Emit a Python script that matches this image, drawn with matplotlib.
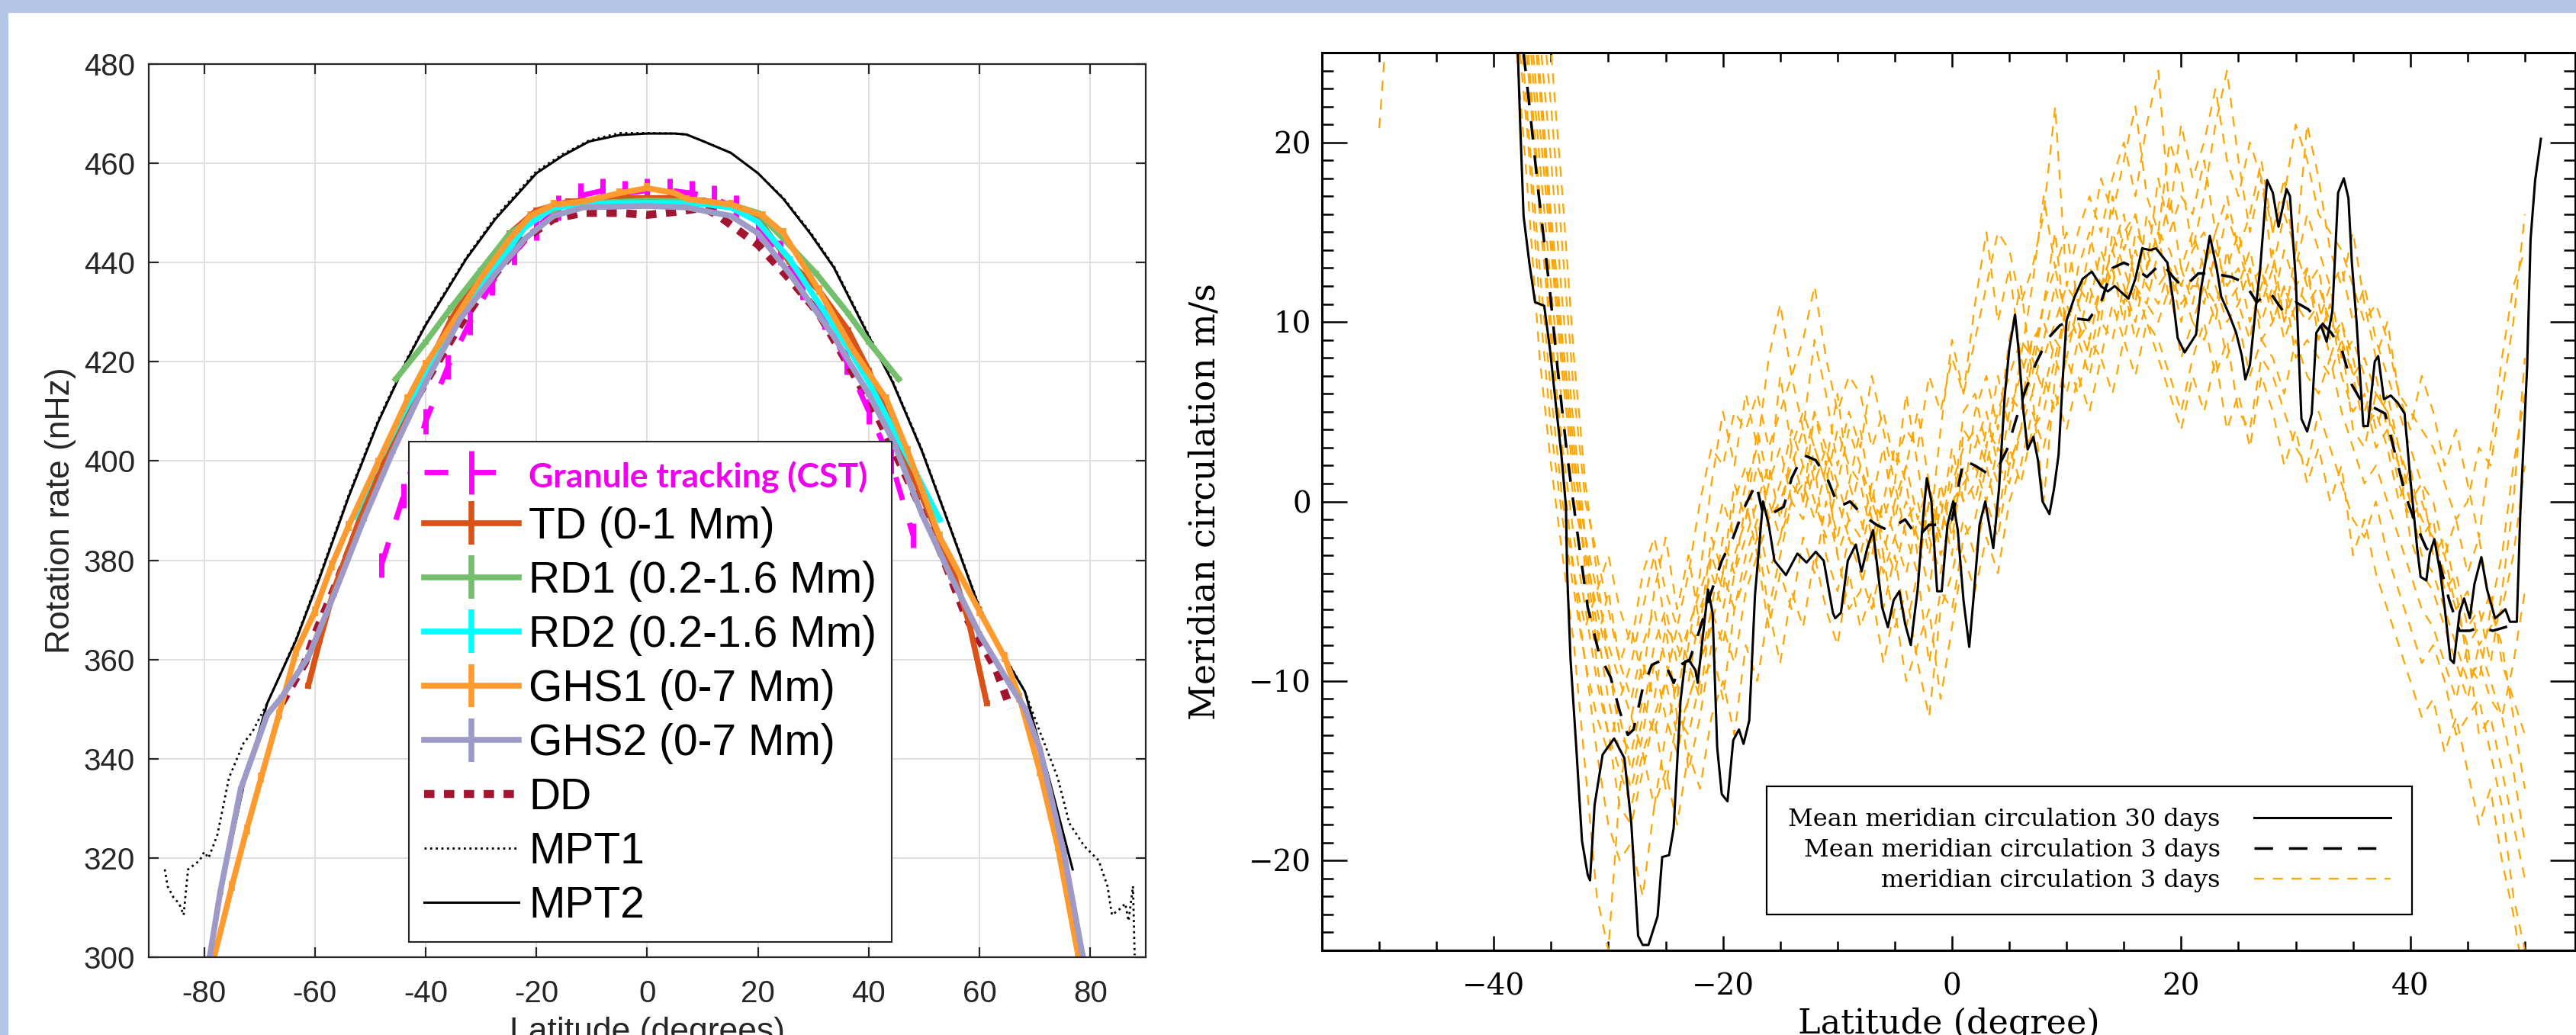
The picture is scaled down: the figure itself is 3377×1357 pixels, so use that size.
import matplotlib.pyplot as plt
from matplotlib.patches import Rectangle
from matplotlib.ticker import MultipleLocator

# ---------------- left panel: rotation rate vs latitude ----------------
LEFT_LABELS = ["Granule tracking (CST)", "TD (0-1 Mm)", "RD1 (0.2-1.6 Mm)",
               "RD2 (0.2-1.6 Mm)", "GHS1 (0-7 Mm)", "GHS2 (0-7 Mm)",
               "DD", "MPT1", "MPT2"]
LEFT_XTICKS = [-80, -60, -40, -20, 0, 20, 40, 60, 80]
LEFT_YTICKS = [300, 320, 340, 360, 380, 400, 420, 440, 460, 480]

cst_lat = [-48, -44, -40, -36, -32, -28, -24, -20, -16, -12, -8, -4, 0,
           4, 8, 12, 16, 20, 24, 28, 32, 36, 40, 44, 48]
cst_val = [379, 393, 408, 419, 428, 436, 442, 447, 451, 453.5, 454.5, 454,
           454.5, 454.5, 454, 453, 451, 447, 442, 435, 429, 420, 410, 400, 385]
cst_err = 2.5

td_lat = [-61.2, -59.1, -56.5, -51.2, -45.9, -40, -35.4, -30.1, -24.8, -20,
          -14.2, -10, -5, 0, 5, 10, 15.1, 20, 25.7, 31, 36.3, 40, 44.3, 49.6,
          54.9, 58.1, 61.3]
td_val = [354.7, 363.9, 374.3, 390.5, 403.2, 418.2, 428.6, 437.8, 445.9, 450.5,
          452.3, 452.5, 453, 453, 453, 452.5, 451.7, 448.8, 440.1, 434.4,
          426.3, 418.2, 406.6, 392.8, 378.9, 367.4, 351.2]
td_err = 0.6

rd1_lat = [-45.4, -40, -35.4, -30.1, -24.8, -20, -14.2, -10, 0, 10, 15.1, 20,
           24.6, 30.5, 36.3, 40, 45.4]
rd1_val = [416.5, 424, 430.9, 438.4, 445.9, 449.4, 451.7, 452, 452.5, 452.3,
           451.7, 450, 444.8, 437.8, 429.7, 424, 416.5]
rd1_err = 0.5

rd2_lat = [-52.8, -48.6, -43.3, -40, -32.7, -27.4, -22.1, -16.9, -10, -5, 0,
           5, 10, 15.1, 20, 25.7, 31.5, 36.9, 40, 44.3, 48.6, 52.8]
rd2_val = [388.8, 399.7, 411.3, 417.6, 430.9, 439, 447.1, 451.1, 451.8, 452,
           452, 452, 451.8, 451.1, 448.2, 440.7, 430.9, 421.7, 415.9, 406.6,
           397.4, 388.2]
rd2_err = 0.5

ghs1_lat = [-78.2, -75, -72.3, -69.7, -66.5, -63.4, -60, -57, -53.9, -48.6,
            -43.3, -40, -35.4, -30.1, -24.8, -21.1, -16.9, -11.6, -5, 0, 5,
            7.1, 15.1, 20.9, 24.6, 31, 36.9, 43.2, 47, 52.8, 60, 64.5, 67.2,
            70.9, 74.1, 77.8]
ghs1_val = [300, 314.3, 325.8, 336.2, 348.9, 361.6, 369.7, 378.9, 387, 399.7,
            412.4, 419.4, 427.4, 436.7, 444.8, 449.4, 451.7, 452.3, 454, 455,
            454, 452.8, 451.7, 449.4, 445.9, 434.4, 422.8, 412.4, 402, 384.7,
            369.7, 360.5, 352.4, 337.4, 322.4, 300.4]
ghs1_err = 1.0

ghs2_lat = [-79, -77.1, -73.4, -68.6, -66, -61.2, -56.5, -51.2, -45.9, -40,
            -33.8, -27.4, -22.1, -16.9, -11.6, -5, 0, 5, 7.1, 15.1, 20, 25.7,
            33.7, 40, 44.3, 49.6, 54.9, 60, 65.6, 68.2, 70.9, 75.2, 78.6]
ghs2_val = [300, 313.1, 333.9, 348.9, 352.4, 360.5, 373.2, 388.2, 402, 415.9,
            428.6, 437.8, 444.8, 449.4, 451.1, 451.3, 451.4, 451.2, 451.1,
            449.4, 445.9, 437.8, 425.1, 413.5, 404.3, 389.3, 376.6, 365.1,
            354.7, 350.1, 342, 321.2, 300.4]
ghs2_err = 0.5

dd_lat = [-66, -61.8, -60, -56.5, -51.2, -45.9, -40, -33.8, -27.4, -22.1,
          -16.9, -11.6, -5, 0, 5, 10, 12.4, 20, 25.7, 31, 36.3, 41.6, 47,
          52.3, 57.6, 62.9, 65.6]
dd_val = [351.2, 359.3, 365.1, 374.3, 389.3, 404.3, 415.9, 427.4, 437.8,
          444.8, 448.8, 450, 450, 449.6, 450.2, 451, 449.8, 443.6, 436.7,
          429.7, 419.4, 409, 396.3, 383.6, 368.5, 358.2, 350.1]

mpt1_lat = [-87.1, -86.6, -85.5, -84.5, -83.7, -83.4, -82.9, -80.8, -80,
            -79.2, -77.6, -75.5, -72.9, -71.3, -68.6, -63.4, -59.1, -53.9,
            -48.6, -43.3, -40, -32.7, -27.4, -20, -15.3, -10.5, -5, 0, 5, 7.1,
            10, 15.1, 20, 24.6, 29.4, 33.7, 40, 44.3, 49.6, 54.9, 60, 64.5,
            68.2, 70.9, 74.1, 76.2, 78.9, 81.5, 83.1, 83.9, 85.3, 86.3, 86.9,
            87.7, 88]
mpt1_val = [317.7, 314.3, 312, 310.8, 308.5, 312, 317.7, 319.5, 321.2, 320,
            324.7, 336.2, 343.1, 345.4, 351.2, 364.2, 377, 393.2, 408.2, 420.8,
            427.7, 441, 449.2, 458.4, 461.8, 464.6, 466.1, 466.1, 466, 465.8,
            464.5, 462.1, 458, 453, 446.2, 439.3, 425.4, 416.2, 402.3, 386.2,
            370.6, 360.8, 353.5, 345.4, 336.2, 327, 322.4, 319.5, 314.3, 308.5,
            309.7, 310.8, 307.3, 314.3, 300.4]

mpt2_lat = [-77, -72.9, -68.6, -63.4, -59.1, -53.9, -48.6, -43.3, -40, -32.7,
            -27.4, -20, -15.3, -10.5, -5, 0, 5, 7.1, 10, 15.1, 20, 24.6, 29.4,
            33.7, 40, 44.3, 49.6, 54.9, 60, 64.5, 68.2, 72.5, 76.8]
mpt2_val = [313.1, 334.5, 351.2, 363.9, 376.6, 392.8, 407.8, 420.5, 427.4,
            440.7, 448.8, 458, 461.5, 464.4, 465.7, 466, 466, 465.8, 464.5,
            462.1, 458, 452.8, 445.9, 439, 425.1, 415.9, 402, 385.9, 370.3,
            360.5, 353.5, 336.2, 317.7]

# ---------------- right panel: meridional circulation ----------------
RIGHT_LABELS = ["Mean meridian circulation 30 days",
                "Mean meridian circulation 3 days",
                "meridian circulation 3 days"]

mean30_lat = [-38.1, -37.9, -37.7, -37.4, -36.9, -36.4, -35.6, -35.1, -34.6,
              -34.1, -33.7, -33.6, -33.3, -32.8, -32.3, -31.8, -31.6, -31.2,
              -30.5, -29.5, -28.6, -28.0, -27.4, -27.0, -26.5, -25.7, -25.3,
              -24.7, -24.3, -23.7, -23.3, -22.9, -22.4, -22.2, -21.7, -21.3,
              -20.9, -20.5, -20.1, -19.6, -19.1, -18.6, -18.2, -17.7, -17.2,
              -16.5, -16.0, -15.5, -14.5, -13.5, -12.7, -11.9, -11.2, -10.4,
              -10.2, -9.7, -9.1, -8.4, -7.9, -7.4, -6.9, -6.1, -5.6, -5.1,
              -4.6, -4.1, -3.6, -3.0, -2.5, -2.2, -1.8, -1.3, -0.9, -0.4, 0.1,
              0.5, 1.0, 1.5, 1.9, 2.4, 2.9, 3.6, 4.1, 4.6, 5.0, 5.5, 5.8, 6.2,
              6.6, 7.1, 7.5, 7.9, 8.5, 8.9, 9.3, 9.7, 10.0, 10.7, 11.4, 12.2,
              13.0, 13.6, 14.2, 14.7, 15.4, 16.0, 16.6, 17.3, 17.8, 18.3, 18.8,
              19.3, 19.7, 20.3, 20.8, 21.3, 21.7, 22.5, 23.1, 23.5, 24.2, 24.8,
              25.3, 25.6, 26.0, 26.4, 26.9, 27.5, 28.0, 28.5, 29.2, 29.5, 30.0,
              30.5, 31.0, 31.4, 31.8, 32.2, 32.7, 33.2, 33.7, 34.2, 34.6, 34.9,
              35.3, 35.9, 36.3, 36.9, 37.2, 37.7, 38.3, 38.9, 39.5, 40.0, 40.6,
              40.9, 41.4, 41.7, 42.1, 42.6, 43.0, 43.5, 43.8, 44.3, 44.7, 45.2,
              45.6, 46.2, 46.7, 47.4, 47.8, 48.3, 48.7, 49.3, 49.6, 50.2, 50.5,
              50.9, 51.4]
mean30_val = [28.0, 25.0, 21.1, 15.9, 13.3, 11.1, 10.9, 8.5, 5.5, 2.6, -0.3,
              -3.9, -8.8, -13.7, -18.9, -20.8, -21.1, -16.9, -14.1, -13.2,
              -14.3, -17.9, -24.2, -24.7, -24.7, -23.1, -19.8, -19.7, -18.2,
              -11.1, -8.9, -8.9, -9.4, -10.1, -7.2, -4.9, -6.2, -13.7, -16.3,
              -16.7, -13.3, -12.7, -13.5, -12.2, -5.2, 0.0, -1.3, -3.3, -4.1,
              -2.9, -3.4, -2.8, -3.3, -6.2, -6.5, -6.2, -3.3, -2.4, -3.9, -2.6,
              -1.6, -5.9, -7.0, -5.5, -5.0, -6.8, -8.0, -4.9, -0.7, 1.3, 0.0,
              -5.0, -5.0, -1.3, 0.0, -1.6, -5.5, -8.1, -5.2, -1.3, 0.0, -2.6,
              0.7, 5.9, 8.5, 10.4, 8.5, 5.2, 2.9, 3.6, 2.3, 0.0, -0.7, 0.7, 2.6,
              7.2, 10.1, 11.4, 12.4, 12.8, 12.0, 11.7, 12.0, 11.7, 11.3, 12.4,
              14.1, 14.0, 14.1, 13.7, 13.3, 11.2, 9.1, 8.3, 8.8, 9.3, 11.7,
              14.8, 13.0, 11.4, 10.4, 9.4, 8.1, 6.8, 7.6, 10.1, 13.0, 17.9,
              17.2, 15.3, 17.4, 17.0, 12.4, 4.6, 3.9, 4.9, 9.4, 9.8, 8.9, 10.6,
              17.2, 18.0, 16.9, 13.3, 10.1, 4.2, 4.2, 7.8, 8.1, 5.7, 5.9, 5.5,
              4.9, 1.3, -2.6, -4.2, -4.4, -2.9, -2.1, -3.9, -5.9, -8.8, -9.0,
              -6.2, -5.4, -6.5, -4.6, -3.1, -4.9, -6.5, -6.3, -6.0, -6.7, -6.7,
              -0.7, 7.5, 14.6, 17.9, 20.2]

mean3_lat = [-37.4, -36.9, -36.1, -35.1, -34.4, -33.6, -32.8, -31.8, -30.8,
             -29.8, -29.0, -28.3, -27.8, -27.0, -26.2, -25.2, -24.3, -23.7,
             -22.9, -22.2, -21.1, -20.1, -19.1, -18.1, -17.1, -16.5, -15.8,
             -14.7, -14.0, -13.0, -11.9, -10.9, -9.9, -8.9, -7.9, -6.6, -5.6,
             -4.1, -3.0, -2.0, -1.0, 0.0, 1.0, 2.0, 3.0, 4.1, 4.8, 5.6, 6.4,
             7.4, 8.4, 9.4, 10.7, 11.9, 13.0, 14.0, 15.0, 16.0, 17.0, 18.3,
             19.3, 20.2, 21.5, 22.8, 24.4, 25.5, 26.6, 27.7, 28.9, 30.0, 31.1,
             32.0, 33.1, 34.0, 34.9, 35.8, 36.9, 37.8, 38.7, 39.6, 40.5, 41.4,
             42.5, 43.4, 44.3, 45.2, 46.1, 47.2, 48.3, 49.2]
mean3_val = [25.0, 22.1, 17.2, 11.7, 7.2, 2.6, -1.3, -5.9, -8.5, -9.8, -11.7,
             -13.0, -12.7, -10.4, -9.1, -8.8, -10.1, -9.1, -8.8, -7.5, -5.2,
             -3.3, -2.0, -0.3, 1.0, -0.7, -0.7, -0.3, 1.3, 2.6, 2.3, 1.3, -0.3,
             0.0, -0.7, -1.3, -1.6, -1.0, -2.0, -1.3, -1.3, -1.0, 2.3, 2.0, 1.6,
             2.0, 2.9, 4.6, 6.2, 7.8, 9.1, 9.8, 10.2, 10.1, 11.1, 13.0, 13.3,
             13.0, 12.5, 13.3, 12.5, 11.9, 12.7, 12.7, 12.5, 12.2, 11.1, 11.7,
             10.6, 11.1, 10.7, 10.1, 9.4, 8.5, 6.5, 5.5, 5.2, 4.9, 2.6, 0.3,
             -1.3, -2.6, -3.3, -5.5, -7.2, -7.2, -7.0, -7.2, -7.0, -6.8]

# individual 3-day circulations, sampled at whole degrees from -38 to 50
lat_3day = list(range(-38, 51))
day3_a = [25, 17, 8, 2, -3, -8, -15, -22, -25, -16,
          -12, -14, -17, -13, -10, -15, -12, -8, -11, -6,
          -4, -2, -6, -3, 0, -1, 2, -3, -5, -2,
          -4, -6, -3, -7, -5, -9, -12, -6, -4, -1,
          -3, 0, -2, 2, 4, 3, 7, 5, 8, 6,
          9, 8, 11, 9, 12, 10, 9, 7, 5, 8,
          10, 7, 9, 5, 4, 8, 7, 5, 3, 2,
          5, 3, 1, -1, -2, 0, -3, -5, -7, -9,
          -8, -10, -13, -12, -11, -14, -17, -22, -25]
day3_b = [29, 21, 13, 6, 0, -4, -7, -5, -3, -6,
          -8, -4, -2, -5, -7, -4, 0, 3, 2, 5,
          4, 6, 3, 5, 7, 9, 12, 8, 5, 7,
          6, 3, 5, 2, 4, 3, 7, 5, 8, 6,
          9, 12, 15, 14, 11, 13, 16, 22, 12, 15,
          17, 15, 18, 20, 17, 21, 24, 16, 21, 18,
          20, 23, 19, 17, 20, 18, 15, 17, 21, 19,
          16, 15, 14, 12, 10, 11, 9, 6, 5, 4,
          3, 1, -1, 0, 3, 2, 6, 10, 16]
day3_c = [31, 24, 16, 9, 3, -2, -6, -10, -13, -15,
          -17, -14, -12, -10, -13, -11, -9, -6, -8, -4,
          -2, 0, 2, -1, 3, 5, 3, 1, 4, 2,
          1, -2, 0, 3, 1, -3, 0, -2, 1, 3,
          4, 2, 5, 7, 9, 8, 11, 13, 10, 12,
          11, 14, 12, 15, 16, 13, 15, 14, 12, 14,
          15, 13, 16, 14, 12, 13, 11, 14, 12, 11,
          12, 10, 9, 7, 8, 6, 5, 3, 1, -1,
          -2, -4, -6, -8, -7, -5, -9, -11, -13]
day3_d = [34, 27, 19, 12, 5, 0, -3, -6, -9, -12,
          -15, -12, -8, -6, -9, -7, -5, -3, 0, -2,
          1, 3, -1, 0, 2, 4, 1, 3, 0, -2,
          -3, 0, -2, -4, -1, 0, -3, 1, -2, 2,
          0, 3, 1, 5, 7, 9, 8, 10, 12, 11,
          13, 12, 14, 16, 12, 11, 14, 13, 10, 13,
          11, 14, 12, 13, 10, 12, 14, 10, 12, 13,
          9, 11, 7, 5, 6, 3, 4, 2, 0, -3,
          -4, -6, -8, -10, -9, -11, -12, -15, -19]
day3_e = [37, 30, 23, 15, 8, 2, -2, -5, -8, -10,
          -12, -9, -11, -7, -8, -10, -6, -4, -6, -3,
          -1, 2, 0, -2, 1, 0, 3, 1, -2, 1,
          -1, -3, 0, -2, -4, -1, -2, -4, 0, 1,
          2, 0, 3, 2, 4, 6, 0, 7, 11, 9,
          10, 12, 13, 11, 14, 12, 11, 13, 12, 10,
          12, 11, 13, 15, 12, 10, 12, 9, 11, 10,
          11, 8, 10, 8, 5, 7, 4, 1, -1, 0,
          -2, -3, -6, -5, -8, -7, -6, -3, 2]
day3_f = [40, 33, 26, 19, 11, 4, -2, -7, -11, -14,
          -16, -13, -9, -12, -14, -11, -9, -7, -4, -6,
          -3, -1, -4, -2, 0, 1, -1, 2, -3, -1,
          2, -1, -4, -2, 0, -2, -5, 0, -3, 4,
          3, 5, 2, 1, 4, 8, 6, 9, 8, 11,
          9, 12, 14, 12, 10, 13, 15, 11, 13, 11,
          14, 12, 10, 11, 13, 9, 10, 12, 8, 9,
          8, 7, 9, 4, 3, 6, 5, 2, -2, -4,
          -5, -7, -9, -11, -8, -10, -12, -9, -5]
day3_g = [43, 36, 29, 22, 14, 6, 0, -3, -6, -9,
          -11, -8, -6, -9, -11, -7, -8, -3, -5, 0,
          2, -2, 1, 3, 0, 2, 5, 3, 1, 4,
          2, 0, -1, 1, -2, -4, 0, -1, 3, 0,
          1, 4, 3, 6, 5, 9, 10, 8, 11, 9,
          12, 10, 15, 13, 11, 16, 14, 17, 13, 15,
          13, 15, 11, 12, 14, 11, 13, 10, 14, 12,
          13, 9, 10, 7, 4, 5, 3, 0, 2, -2,
          -1, -5, -4, -7, -6, -9, -5, 0, 8]
day3_h = [46, 39, 32, 25, 17, 8, 1, -4, -9, -13,
          -14, -11, -13, -10, -7, -9, -11, -6, -2, -4,
          0, -3, -1, 1, 4, 2, 0, -2, 1, -1,
          -2, 1, -3, 0, 2, -1, 1, -3, -1, 5,
          6, 3, 7, 4, 8, 6, 9, 12, 9, 10,
          8, 11, 13, 10, 15, 14, 12, 13, 11, 12,
          12, 10, 14, 11, 9, 13, 10, 12, 10, 13,
          10, 12, 8, 9, 7, 4, 6, 3, 0, 1,
          -3, -2, -5, -9, -10, -6, -8, -12, -16]
day3_i = [27, 20, 11, 4, -1, -5, -9, -12, -14, -11,
          -9, -6, -3, -7, -12, -8, -4, 1, 5, 2,
          6, 3, 8, 11, 7, 4, 9, 6, 2, 5,
          3, 7, 4, 1, 6, 2, -2, 4, 9, 6,
          11, 15, 10, 13, 8, 12, 17, 13, 15, 11,
          14, 18, 16, 19, 22, 17, 15, 20, 18, 14,
          17, 21, 24, 19, 15, 18, 13, 16, 14, 21,
          18, 14, 12, 15, 11, 8, 10, 6, 4, 7,
          5, 2, 4, 1, -2, 3, 8, 12, 14]
day3_j = [32, 25, 17, 10, 2, -4, -9, -14, -18, -20,
          -19, -22, -17, -15, -18, -14, -16, -12, -10, -13,
          -8, -10, -6, -9, -5, -7, -3, -6, -8, -4,
          -7, -5, -9, -6, -10, -8, -6, -11, -7, -3,
          -5, -2, -4, 0, 2, 5, 3, 6, 4, 7,
          5, 8, 6, 9, 7, 10, 8, 6, 4, 7,
          5, 8, 4, 6, 3, 7, 5, 2, 4, 1,
          3, 0, 2, -3, -1, -4, -6, -8, -10, -12,
          -11, -14, -12, -15, -18, -16, -20, -23, -27]
day3_k = [36, 28, 21, 14, 7, 1, -3, -8, -5, -9,
          -7, -10, -5, -2, -6, -3, -7, -2, -4, 1,
          -1, 4, 1, 7, 3, 0, 5, 2, 6, 1,
          4, 0, 3, -1, 2, 5, 1, -2, 2, 0,
          5, 7, 4, 9, 12, 7, 11, 15, 9, 13,
          15, 12, 17, 14, 16, 13, 18, 15, 17, 16,
          19, 15, 17, 14, 16, 19, 15, 18, 13, 16,
          14, 12, 13, 10, 12, 9, 7, 5, 3, 1,
          0, -3, -1, -4, -2, -6, -3, 2, 6]
day3_l = [39, 31, 24, 16, 9, 3, -4, -9, -13, -17,
          -18, -15, -12, -16, -12, -13, -10, -9, -7, -9,
          -5, -3, -7, -4, -6, -2, -4, 0, -3, -6,
          -5, -2, -6, -3, -7, -4, -9, -5, -6, -2,
          -1, 2, -1, 3, 1, 4, 5, 8, 6, 9,
          7, 10, 9, 12, 9, 11, 10, 12, 8, 10,
          9, 11, 8, 10, 7, 9, 8, 6, 9, 7,
          6, 8, 5, 3, 1, 2, 0, -2, -4, -6,
          -7, -9, -11, -8, -13, -12, -15, -18, -21]
day3_runs = [day3_a, day3_b, day3_c, day3_d, day3_e, day3_f,
             day3_g, day3_h, day3_i, day3_j, day3_k, day3_l]
stray_lat = [-50.0, -49.4]
stray_val = [20.8, 26.0]

# ---------------- figure ----------------
fig = plt.figure(figsize=(33.77, 13.57), dpi=100)
fig.patch.set_facecolor('#B4C7E7')
fig.add_artist(Rectangle((0.0034, 0.0), 1.0, 0.9875, transform=fig.transFigure,
                         facecolor='white', edgecolor='none', zorder=-5))

ax1 = fig.add_axes([0.05774, 0.07517, 0.38703, 0.86293])
ax2 = fig.add_axes([0.51318, 0.0818, 0.48653, 0.86735])

# left panel
eb = dict(capsize=0, lw=5.5, elinewidth=5.5)
h_cst = ax1.errorbar(cst_lat, cst_val, yerr=cst_err, color='#FF00FF',
                     linestyle=(0, (4.5, 4.5)), capsize=0, lw=5, elinewidth=5)
h_td = ax1.errorbar(td_lat, td_val, yerr=td_err, color='#D95319', **eb)
h_rd1 = ax1.errorbar(rd1_lat, rd1_val, yerr=rd1_err, color='#74BF6C', **eb)
h_rd2 = ax1.errorbar(rd2_lat, rd2_val, yerr=rd2_err, color='#00FFFF', **eb)
h_ghs1 = ax1.errorbar(ghs1_lat, ghs1_val, yerr=ghs1_err, color='#FF9A2E', **eb)
h_ghs2 = ax1.errorbar(ghs2_lat, ghs2_val, yerr=ghs2_err, color='#9E9AC8', **eb)
h_dd, = ax1.plot(dd_lat, dd_val, color='#A2142F', lw=7.5,
                 linestyle=(0, (1.3, 1.2)))
h_mpt1, = ax1.plot(mpt1_lat, mpt1_val, color='black', lw=2.0, linestyle=':')
h_mpt2, = ax1.plot(mpt2_lat, mpt2_val, color='black', lw=2.2)

ax1.set_xlim(-90, 90)
ax1.set_ylim(300, 480)
ax1.set_xticks(LEFT_XTICKS)
ax1.set_xticklabels([str(t) for t in LEFT_XTICKS])
ax1.set_yticks(LEFT_YTICKS)
ax1.set_yticklabels([str(t) for t in LEFT_YTICKS])
ax1.grid(True, color='#DCDCDC', lw=1.3)
ax1.set_axisbelow(True)
ax1.tick_params(direction='in', top=True, right=True, length=9.5, width=1.6,
                color='#262626', labelsize=29, labelcolor='#262626',
                labelfontfamily='Liberation Sans')
ax1.tick_params(axis='x', pad=21)
ax1.tick_params(axis='y', pad=13)
for s in ax1.spines.values():
    s.set_color('#262626')
    s.set_linewidth(1.6)
ax1.set_xlabel('Latitude (degrees)', fontsize=32, family='Liberation Sans',
               color='#262626', labelpad=8)
ax1.set_ylabel('Rotation rate (nHz)', fontsize=32, family='Liberation Sans',
               color='#262626', labelpad=7)

leg1 = ax1.legend([h_cst, h_td, h_rd1, h_rd2, h_ghs1, h_ghs2, h_dd, h_mpt1, h_mpt2],
                  LEFT_LABELS, loc='upper left', bbox_to_anchor=(0.261, 0.577),
                  borderaxespad=0, prop={'family': 'Liberation Sans', 'size': 41},
                  handlelength=2.18, handletextpad=0.23, borderpad=0.35,
                  labelspacing=0.3, fancybox=False, edgecolor='#262626',
                  framealpha=1)
leg1.get_frame().set_linewidth(1.5)
t0 = leg1.get_texts()[0]
t0.set_color('#EE00EE')
t0.set_fontfamily('Lato')
t0.set_fontweight('bold')
t0.set_fontsize(32)

# right panel
for run in day3_runs:
    h_day, = ax2.plot(lat_3day, run, color='#FFA500', lw=1.6, linestyle=(0, (6, 5)))
ax2.plot(stray_lat, stray_val, color='#FFA500', lw=1.6, linestyle=(0, (6, 5)))
h_m3, = ax2.plot(mean3_lat, mean3_val, color='black', lw=2.5, linestyle=(0, (7, 6)))
h_m30, = ax2.plot(mean30_lat, mean30_val, color='black', lw=2.2)

ax2.set_xlim(-55, 54.4)
ax2.set_ylim(-25, 25)
ax2.xaxis.set_major_locator(MultipleLocator(20))
ax2.xaxis.set_minor_locator(MultipleLocator(5))
ax2.yaxis.set_major_locator(MultipleLocator(10))
ax2.yaxis.set_minor_locator(MultipleLocator(1))
ax2.tick_params(which='both', direction='in', top=True, right=True, width=1.8,
                color='black', labelsize=28, labelfontfamily='DejaVu Serif')
ax2.tick_params(axis='x', which='major', length=14, pad=21)
ax2.tick_params(axis='x', which='minor', length=8.5)
ax2.tick_params(axis='y', which='major', length=24, pad=10)
ax2.tick_params(axis='y', which='minor', length=11)
for s in ax2.spines.values():
    s.set_linewidth(2.2)
ax2.set_xlabel('Latitude (degree)', fontsize=32, family='DejaVu Serif', labelpad=6)
ax2.set_ylabel('Meridian circulation m/s', fontsize=33, family='DejaVu Serif',
               labelpad=25)

leg2 = ax2.legend([h_m30, h_m3, h_day], RIGHT_LABELS, loc='lower right',
                  bbox_to_anchor=(0.870, 0.04), borderaxespad=0,
                  prop={'family': 'DejaVu Serif', 'size': 23}, markerfirst=False,
                  handlelength=5.6, handletextpad=1.38, borderpad=0.9,
                  labelspacing=0.28, fancybox=False, edgecolor='black',
                  framealpha=1)
leg2.get_frame().set_linewidth(1.6)

fig.savefig('out.png', dpi=100, facecolor=fig.get_facecolor())
